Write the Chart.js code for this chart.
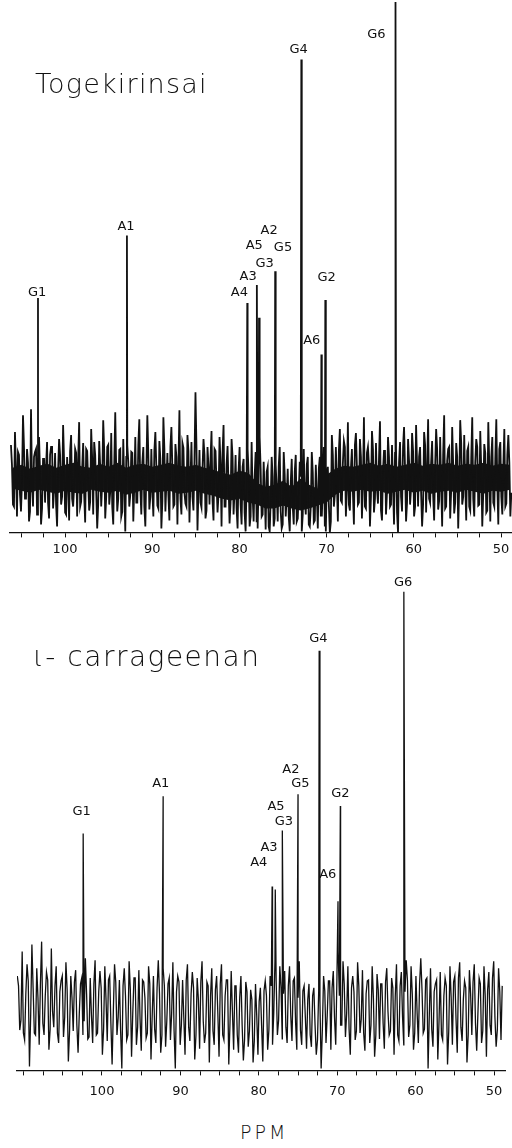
<!DOCTYPE html>
<html>
<head>
<meta charset="utf-8">
<script src="https://cdn.jsdelivr.net/npm/chart.js@4.4.0/dist/chart.umd.min.js"></script>
<style>
  body { margin: 0; background: #fff; width: 512px; height: 1148px; position: relative; overflow: hidden; }
  canvas { position: absolute; left: 0; }
  .title { position: absolute; font-family: "DejaVu Sans", sans-serif; font-weight: 300; color: #111; white-space: nowrap; }
</style>
</head>
<body>
<canvas id="top" width="512" height="561" style="top:0"></canvas>
<canvas id="bottom" width="512" height="532" style="top:575px"></canvas>
<div class="title" style="left:35px; top:68px; font-size:27px; letter-spacing:1.2px;">Togekirinsai</div>
<div class="title" style="left:33px; top:640px; font-size:28px; letter-spacing:1.5px;">ι- carrageenan</div>
<div class="title" style="left:240px; top:1121px; font-size:19px; letter-spacing:3px;">PPM</div>
<script>
// Togekirinsai spectrum (top); noise read as two interleaved sample rows
const topNoiseStart = 106.2;
const topNoiseStep = 0.23;
const topNoise = [
  32,-28,45,-40,22,-35,62,-22,28,-45,
  68,-30,25,-38,40,-48,18,-26,35,-42,
  30,-32,24,-50,38,-28,52,-36,20,-44,
  42,-30,28,-40,55,-25,34,-46,26,-34,
  48,-38,22,-52,36,-30,57,-42,30,-28,
  44,-48,65,-35,27,-40,38,-55,32,-30,
  25,-45,40,-26,58,-38,30,-50,62,-33,
  28,-40,45,-29,36,-52,60,-35,24,-44,
  50,-30,33,-48,67,-38,29,-27,42,-46,
  35,-34,85,-54,27,-31,38,-42,30,-28,
  46,-44,26,-36,40,-50,52,-30,31,-47,
  38,-38,22,-52,30,-48,18,-55,28,-50,
  35,-45,25,-52,40,-40,15,-53,10,-55,
  20,-50,12,-45,30,-52,25,-40,8,-55,
  18,-48,22,-42,15,-55,28,-38,20,-50,
  25,-46,12,-52,20,-40,30,-55,10,-56,
  42,-30,30,-45,48,-26,36,-40,55,-34,
  28,-48,44,-28,38,-42,60,-32,30,-50,
  46,-36,34,-27,56,-44,26,-38,40,-30,
  32,-48,28,-56,35,-35,50,-45,38,-28,
  44,-40,52,-30,30,-50,45,-36,58,-26,
  36,-44,48,-33,40,-50,62,-30,28,-42,
  50,-37,34,-52,57,-28,42,-44,30,-34,
  60,-40,38,-29,46,-50,33,-36,55,-45,
  40,-30,58,-48,35,-38,48,-27,42,-40
];
const topNoiseMid = [
  12,-30,8,25,-18,-5,30,-22,14,-35,
  -8,20,28,-15,5,-32,18,10,-26,22,
  30,-12,-28,6,22,-20,15,-38,-6,26,
  -22,-10,24,16,-30,8,-18,28,-5,-25,
  18,35,-14,-28,10,-6,26,-20,32,-15,
  -30,12,6,-22,28,-35,-10,20,15,-18,
  24,-8,-26,32,-12,14,-30,5,22,-20,
  -14,26,10,-32,18,-24,28,-6,-18,30,
  8,-28,20,12,-22,34,-16,-30,26,-4,
  -20,16,30,-12,-26,8,22,-34,10,18,
  -24,28,-6,-18,14,24,-30,12,-10,-26,
  20,-14,-32,6,-28,10,-36,-8,4,-40,
  -20,0,-45,-5,8,-38,-15,5,-50,-25,
  0,-42,-12,10,-35,-48,2,-20,-40,-6,
  -30,5,-45,-15,0,-38,-22,12,-48,-30,
  4,-44,-18,8,-40,-10,-50,0,-28,-45,
  22,-18,-6,26,-24,14,30,-12,-28,8,
  -16,32,10,-26,20,-8,-30,24,12,-20,
  28,-22,-12,18,-34,6,26,-16,20,-28,
  -10,24,-36,14,-20,30,8,-26,16,-12,
  26,-30,12,20,-16,-28,32,6,-22,14,
  -18,10,28,-24,-8,22,-32,16,30,-14,
  12,-26,20,-10,34,-20,-6,26,-30,18,
  -22,14,30,-28,8,-16,24,-34,12,20,
  -26,18,-8,28,-20,10,-30,22,14,-16
];
// dense core of the band, one value per ppm from 106 down to 49
const topCoreStart = 106;
const topCoreHi = [
  9,12,8,11,13,9,12,14,10,9,
  13,10,14,9,12,13,10,12,14,11,
  10,12,9,7,4,2,6,4,-6,-10,
  -8,-4,-10,-2,-8,-12,2,8,11,10,
  12,14,11,13,10,12,14,11,13,12,
  14,11,13,12,14,11,13,12
];
const topCoreLo = [
  -12,-14,-16,-13,-15,-17,-14,-16,-17,-13,
  -15,-16,-14,-18,-16,-13,-16,-15,-14,-17,
  -16,-14,-17,-19,-22,-24,-22,-26,-28,-32,
  -32,-29,-32,-34,-32,-29,-26,-18,-14,-15,
  -13,-15,-14,-17,-15,-13,-16,-14,-17,-15,
  -14,-16,-13,-15,-17,-14,-15,-13
];
const topPeakPpm = [103.1, 92.9, 79.1, 78.0, 77.75, 75.9, 72.9, 70.6, 70.15, 62.1];
const topPeakHeight = [180, 243, 175, 193, 160, 207, 420, 123, 178, 478];
const topLabels = ["G1", "A1", "A4", "A3", "G3", "A5", "G5", "A2", "G4", "A6", "G2", "G6"];
const topLabelPpm = [103.2, 93.0, 80.0, 79.0, 77.1, 78.3, 75.0, 76.6, 73.2, 71.7, 70.0, 64.3];
const topLabelLevel = [185, 252, 185, 202, 215, 233, 231, 248, 430, 137, 200, 445];

// iota-carrageenan spectrum (bottom)
const botNoiseStart = 110.8;
const botNoiseStep = 0.31;
const botNoise = [
  30,-25,55,-35,42,-62,62,-28,38,-40,
  65,-30,34,-45,58,-22,40,-38,25,-32,
  44,-57,30,-26,36,-48,22,-30,48,-34,
  28,-38,46,-28,35,-50,40,-36,30,-60,
  42,-30,26,-64,38,-35,45,-52,28,-40,
  36,-46,24,-33,40,-55,30,-38,46,-48,
  38,-42,22,-35,44,-64,30,-40,26,-50,
  42,-36,34,-55,28,-44,45,-38,24,-58,
  38,-40,30,-52,42,-35,26,-60,35,-45,
  20,-48,30,-56,24,-42,16,-58,22,-50,
  18,-57,25,-45,30,-40,45,-30,40,-34,
  35,-38,40,-36,28,-45,45,-40,20,-44,
  22,-42,18,-50,15,-64,30,-38,25,-45,
  35,-40,55,-20,45,-32,40,-50,30,-35,
  44,-28,36,-46,25,-38,40,-52,32,-34,
  22,-44,38,-30,28,-50,42,-36,34,-40,
  46,-32,40,-45,30,-38,48,-28,26,-64,
  38,-42,22,-55,34,-35,28,-60,40,-40,
  30,-48,44,-36,25,-58,36,-30,42,-46,
  28,-38,40,-52,34,-30,45,-42,38,-35
];
const botNoiseMid = [
  20,-15,-28,12,25,-10,18,-30,8,22,
  -18,10,26,-24,-6,20,-28,14,30,-12,
  16,-26,8,24,-20,-8,28,-16,12,-32,
  -10,22,-30,14,18,-24,6,26,-18,-6,
  24,-12,-26,20,10,-30,16,-8,28,-22,
  -14,26,8,-28,22,-10,-24,18,12,-30,
  20,-16,28,-8,-26,14,24,-20,-12,26,
  -22,12,18,-30,6,24,-16,-28,20,10,
  -26,16,-8,22,-30,10,26,-18,-6,20,
  -30,8,-20,-34,14,-26,6,-36,-10,4,
  -20,15,10,-25,20,-8,25,-15,18,12,
  -22,20,-10,25,-18,8,-25,15,-12,6,
  -30,10,-20,-35,5,-25,15,-10,25,18,
  -12,28,10,-20,22,-8,-24,18,14,-26,
  20,-14,-28,12,26,-20,8,-30,16,22,
  -18,24,-6,-26,18,10,-30,20,-12,14,
  26,-20,12,-28,-8,22,16,-24,28,-10,
  -24,14,26,-16,-30,10,20,-26,8,24,
  -14,28,-22,6,18,-30,12,24,-18,-8,
  22,-26,10,16,-20,28,-12,-24,14,20
];
const botPeakPpm = [102.4, 92.2, 78.3, 77.9, 77.0, 75.0, 72.3, 69.9, 69.6, 61.5];
const botPeakHeight = [175, 213, 121, 118, 178, 215, 361, 106, 203, 421];
const botLabels = ["G1", "A1", "A4", "A3", "G3", "A5", "G5", "A2", "G4", "A6", "G2", "G6"];
const botLabelPpm = [102.6, 92.5, 80.0, 78.7, 76.8, 77.8, 74.7, 75.9, 72.4, 71.2, 69.6, 61.6];
const botLabelLevel = [197, 226, 145, 161, 187, 202, 226, 240, 373, 133, 216, 430];

function buildTrace(start, step, noise, mid, peakPpm, peakHeight) {
  const pts = noise.map((v, i) => ({ x: start - i * step, y: v }));
  mid.forEach((v, i) => pts.push({ x: start - (i + 0.5) * step, y: v }));
  peakPpm.forEach((p, i) => pts.push({ x: p, y: peakHeight[i] }));
  return pts.sort((a, b) => b.x - a.x);
}

const corePoints = (start, vals) => vals.map((v, i) => ({ x: start - i, y: v }));

const peakLabelPlugin = {
  id: "peakLabels",
  afterDatasetsDraw(chart, args, opts) {
    const { ctx, scales } = chart;
    ctx.save();
    ctx.font = "13px 'DejaVu Sans', sans-serif";
    ctx.fillStyle = "#111";
    ctx.textAlign = "center";
    ctx.textBaseline = "middle";
    opts.labels.forEach((t, i) => {
      ctx.fillText(t, scales.x.getPixelForValue(opts.ppm[i]), scales.y.getPixelForValue(opts.level[i]));
    });
    ctx.restore();
  },
};

function makeSpectrum(id, cfg) {
  const datasets = [{
    data: buildTrace(cfg.start, cfg.step, cfg.noise, cfg.mid, cfg.peakPpm, cfg.peakHeight),
    borderColor: "#111",
    borderWidth: cfg.lineWidth,
    pointRadius: 0,
    tension: 0,
    order: 0,
  }];
  if (cfg.coreHi) {
    datasets.push(
      { data: corePoints(cfg.coreStart, cfg.coreHi), borderWidth: 0, pointRadius: 0, fill: "+1", backgroundColor: "#151515", order: 1 },
      { data: corePoints(cfg.coreStart, cfg.coreLo), borderWidth: 0, pointRadius: 0, fill: false, order: 2 },
    );
  }
  new Chart(document.getElementById(id), {
    type: "line",
    data: { datasets },
    options: {
      responsive: false,
      animation: false,
      devicePixelRatio: 1,
      layout: { padding: { left: cfg.padLeft, right: cfg.padRight, top: 0, bottom: 0 } },
      plugins: {
        legend: { display: false },
        tooltip: { enabled: false },
        peakLabels: { labels: cfg.labels, ppm: cfg.labelPpm, level: cfg.labelLevel },
      },
      scales: {
        x: {
          type: "linear",
          reverse: true,
          min: cfg.xMin,
          max: cfg.xMax,
          afterBuildTicks: (scale) => {
            const ticks = [];
            for (let v = Math.ceil(scale.min / 2.5) * 2.5; v <= scale.max; v += 2.5) ticks.push({ value: v });
            scale.ticks = ticks;
          },
          ticks: {
            autoSkip: false,
            maxRotation: 0,
            padding: cfg.tickPad,
            color: "#111",
            font: { family: "'DejaVu Sans', sans-serif", size: 13 },
            callback: (v) => (v % 10 === 0 && v <= 100 ? String(v) : ""),
          },
          grid: { drawOnChartArea: false, drawTicks: true, tickLength: 5, color: "#111" },
          border: { display: true, color: "#111", width: 1.3 },
        },
        y: { display: false, min: cfg.yMin, max: cfg.yMax },
      },
    },
    plugins: [peakLabelPlugin],
  });
}

makeSpectrum("top", {
  start: topNoiseStart, step: topNoiseStep, noise: topNoise, mid: topNoiseMid,
  coreStart: topCoreStart, coreHi: topCoreHi, coreLo: topCoreLo,
  peakPpm: topPeakPpm, peakHeight: topPeakHeight,
  labels: topLabels, labelPpm: topLabelPpm, labelLevel: topLabelLevel,
  xMin: 48.74, xMax: 106.31, yMin: -56, yMax: 480,
  padLeft: 10, padRight: 0, tickPad: 4, lineWidth: 1.8,
});

makeSpectrum("bottom", {
  start: botNoiseStart, step: botNoiseStep, noise: botNoise, mid: botNoiseMid,
  peakPpm: botPeakPpm, peakHeight: botPeakHeight,
  labels: botLabels, labelPpm: botLabelPpm, labelLevel: botLabelLevel,
  xMin: 48.6, xMax: 110.84, yMin: -66, yMax: 438,
  padLeft: 17, padRight: 7, tickPad: 8, lineWidth: 1.3,
});
</script>
</body>
</html>
